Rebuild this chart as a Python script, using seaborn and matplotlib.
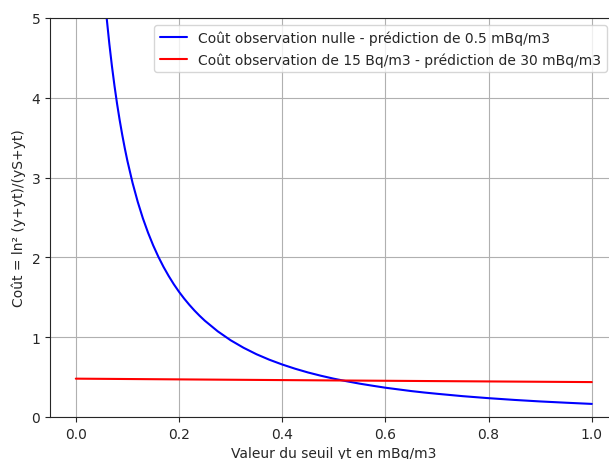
import numpy as np
import pandas as pd
import matplotlib
matplotlib.use('Agg')
import matplotlib.pyplot as plt
import seaborn as sns

# values
seuil_bleu = [0.04, 0.045, 0.05, 0.055, 0.06, 0.065, 0.07, 0.075, 0.08, 0.085, 0.09, 0.095,
              0.10, 0.11, 0.12, 0.13, 0.14, 0.15, 0.16, 0.17, 0.18, 0.19, 0.20,
              0.21, 0.22, 0.23, 0.24, 0.25, 0.275, 0.30, 0.325, 0.35, 0.375, 0.40,
              0.425, 0.45, 0.475, 0.50, 0.525, 0.55, 0.575, 0.60, 0.625, 0.65, 0.675,
              0.70, 0.75, 0.80, 0.85, 0.90, 0.95, 1.00]
cout_bleu = [6.774, 6.221, 5.750, 5.344, 4.989, 4.676, 4.398, 4.149, 3.924, 3.721, 3.536, 3.366,
             3.210, 2.934, 2.697, 2.490, 2.310, 2.150, 2.008, 1.881, 1.767, 1.663, 1.569,
             1.484, 1.406, 1.334, 1.268, 1.207, 1.074, 0.962, 0.868, 0.787, 0.718, 0.658,
             0.605, 0.558, 0.517, 0.480, 0.448, 0.418, 0.392, 0.367, 0.346, 0.325, 0.307,
             0.291, 0.261, 0.236, 0.214, 0.195, 0.179, 0.164]
seuil_rouge = [0.0, 0.25, 0.5, 0.75, 1.0]
cout_rouge = [0.4805, 0.4691, 0.4582, 0.4477, 0.4375]

lab_bleu = 'Coût observation nulle - prédiction de 0.5 mBq/m3'
lab_rouge = 'Coût observation de 15 Bq/m3 - prédiction de 30 mBq/m3'

df = pd.concat([
    pd.DataFrame({'seuil': seuil_bleu, 'cout': cout_bleu, 'courbe': lab_bleu}),
    pd.DataFrame({'seuil': seuil_rouge, 'cout': cout_rouge, 'courbe': lab_rouge}),
])

sns.set_style('ticks')
plt.rcParams['font.family'] = ['DejaVu Sans']

fig = plt.figure(figsize=(6.09, 4.6), dpi=100)
ax = fig.add_axes([50/609, 42/460, 567.6/609, 399/460])

sns.lineplot(data=df, x='seuil', y='cout', hue='courbe', sort=False,
             palette={lab_bleu: 'blue', lab_rouge: 'red'}, linewidth=1.5, ax=ax)

ax.set_xlim(-0.05, 1.05)
ax.set_ylim(0, 5)
ax.set_xticks([0.0, 0.2, 0.4, 0.6, 0.8, 1.0])
ax.set_yticks([0, 1, 2, 3, 4, 5])
ax.spines['right'].set_visible(False)
ax.grid(True, color='#b0b0b0', linewidth=0.8)
ax.tick_params(labelsize=10)
ax.set_xlabel('Valeur du seuil yt en mBq/m3', fontsize=10)
ax.set_ylabel('Coût = ln² (y+yt)/(yS+yt)', fontsize=10)

ax.legend(title=None, loc='upper right', bbox_to_anchor=(607/609, 1 - 26/460),
          bbox_transform=fig.transFigure, borderaxespad=0, fontsize=10)

fig.savefig('out.png', dpi=100)
